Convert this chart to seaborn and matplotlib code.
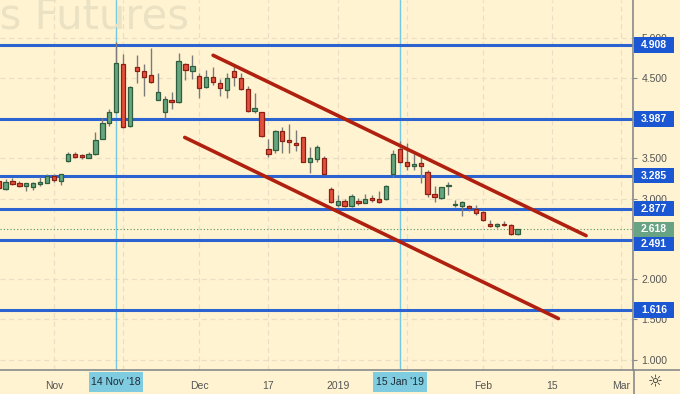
import numpy as np
import pandas as pd
import matplotlib
matplotlib.use("Agg")
import matplotlib.pyplot as plt
from matplotlib.patches import Rectangle
from matplotlib.lines import Line2D
import matplotlib.transforms as mtransforms
import seaborn as sns

# -------------------------
# Data
# -------------------------
# daily candles, 22 Oct 2018 .. 8 Feb 2019
opens = [3.22, 3.12, 3.22, 3.19, 3.16, 3.14, 3.18, 3.20, 3.28, 3.22,
         3.47, 3.55, 3.54, 3.51, 3.55, 3.74, 3.94, 4.07, 4.67, 3.90,
         4.63, 4.58, 4.53, 4.23, 4.07, 4.22, 4.20, 4.67, 4.58, 4.52,
         4.39, 4.51, 4.44, 4.35, 4.59, 4.50, 4.36, 4.09, 4.07, 3.62,
         3.60, 3.84, 3.73, 3.69, 3.76, 3.45, 3.49, 3.51, 3.12, 2.92,
         2.97, 2.91, 2.97, 2.95, 3.01, 2.99, 2.99, 3.31, 3.62, 3.45,
         3.41, 3.44, 3.33, 3.06, 3.01, 3.16, 2.92, 2.91, 2.91, 2.87,
         2.83, 2.69, 2.66, 2.69, 2.67, 2.56]
highs = [3.24, 3.24, 3.25, 3.22, 3.20, 3.21, 3.27, 3.31, 3.31, 3.31,
         3.58, 3.58, 3.56, 3.58, 3.83, 4.00, 4.11, 4.94, 4.80, 4.40,
         4.78, 4.67, 4.87, 4.56, 4.28, 4.32, 4.81, 4.69, 4.78, 4.56,
         4.60, 4.63, 4.49, 4.56, 4.66, 4.56, 4.40, 4.31, 4.08, 3.74,
         3.85, 3.89, 3.93, 3.85, 3.77, 3.64, 3.66, 3.53, 3.14, 3.04,
         3.00, 3.06, 3.01, 3.06, 3.04, 3.09, 3.17, 3.60, 3.71, 3.69,
         3.56, 3.52, 3.36, 3.16, 3.15, 3.21, 2.98, 2.97, 2.92, 2.92,
         2.84, 2.73, 2.70, 2.72, 2.68, 2.62]
lows = [3.11, 3.11, 3.17, 3.15, 3.10, 3.11, 3.16, 3.19, 3.21, 3.17,
        3.45, 3.51, 3.49, 3.50, 3.54, 3.74, 3.90, 4.06, 3.88, 3.89,
        4.43, 4.28, 4.43, 4.22, 4.00, 4.11, 4.19, 4.47, 4.48, 4.25,
        4.37, 4.41, 4.28, 4.25, 4.40, 4.35, 4.08, 4.06, 3.77, 3.52,
        3.57, 3.57, 3.57, 3.59, 3.45, 3.32, 3.45, 3.29, 2.94, 2.90,
        2.89, 2.90, 2.92, 2.94, 2.96, 2.95, 2.98, 3.27, 3.44, 3.35,
        3.36, 3.20, 3.02, 2.96, 3.00, 3.04, 2.90, 2.79, 2.85, 2.80,
        2.72, 2.65, 2.64, 2.66, 2.55, 2.55]
closes = [3.13, 3.21, 3.18, 3.16, 3.19, 3.19, 3.21, 3.28, 3.23, 3.30,
          3.56, 3.52, 3.52, 3.56, 3.73, 3.94, 4.07, 4.69, 3.89, 4.39,
          4.58, 4.51, 4.45, 4.32, 4.24, 4.20, 4.71, 4.60, 4.65, 4.38,
          4.51, 4.45, 4.37, 4.50, 4.51, 4.36, 4.09, 4.13, 3.78, 3.55,
          3.84, 3.72, 3.70, 3.67, 3.46, 3.51, 3.64, 3.30, 2.96, 2.97,
          2.91, 3.03, 2.95, 2.99, 2.98, 2.96, 3.16, 3.56, 3.45, 3.40,
          3.42, 3.41, 3.06, 3.02, 3.14, 3.17, 2.93, 2.96, 2.88, 2.82,
          2.73, 2.66, 2.68, 2.67, 2.56, 2.618]

# trading calendar (exchange holidays skipped for past bars)
holidays = ["2018-11-22", "2018-12-25", "2019-01-01", "2019-01-21"]
calendar = pd.bdate_range("2018-10-22", "2019-03-08")
calendar = calendar[~calendar.isin(pd.to_datetime(holidays))]

# horizontal support / resistance levels
levels = [4.908, 3.987, 3.285, 2.877, 2.491, 1.616]
last_price = 2.618

# descending channel, bar position / price
upper_x = [31.0, 84.9]
upper_y = [4.78, 2.54]
lower_x = [26.9, 80.9]
lower_y = [3.76, 1.51]

# marked dates (cyan crosshair lines)
marked_dates = ["2018-11-14", "2019-01-15"]
marked_labels = ["14 Nov '18", "15 Jan '19"]

# axis ticks
tick_dates = ["2018-11-01", "2018-12-03", "2018-12-17", "2019-01-02",
              "2019-02-01", "2019-02-15", "2019-03-01"]
tick_labels = ["Nov", "Dec", "17", "2019", "Feb", "15", "Mar"]
extra_grid_dates = ["2018-11-15", "2019-01-16"]
price_ticks = [1.0, 1.5, 2.0, 2.5, 3.0, 3.5, 4.0, 4.5, 5.0]

df = pd.DataFrame({"date": calendar[:len(opens)], "open": opens, "high": highs,
                   "low": lows, "close": closes})
df["pos"] = np.arange(len(df))
df["up"] = df["close"] >= df["open"]


def bar_pos(d):
    return int(np.where(calendar == pd.Timestamp(d))[0][0])


# -------------------------
# Style
# -------------------------
BG = "#fff3d1"
GRID = "#e9dfc6"
GREEN, GREEN_EDGE = "#65a57f", "#2e5e3e"
RED, RED_EDGE = "#e2513d", "#8c1e12"
BLUE = "#2b63d0"
BOX_BLUE = "#1c57d3"
CHANNEL = "#b0200f"
CYAN = "#74c9e0"
TXT = "#555555"

sns.set_style("white", {"axes.facecolor": BG, "figure.facecolor": BG})
plt.rcParams["font.family"] = ["Liberation Sans", "DejaVu Sans"]

fig = plt.figure(figsize=(6.8, 3.94), dpi=100)
ax = fig.add_axes([0, 24 / 394, 633 / 680, 370 / 394])
ax.set_facecolor(BG)

# watermark (cut off at the left edge, as in the screenshot)
fig.text(189 / 680, 1 - 28.5 / 394, "Natural Gas Futures", ha="right",
         va="baseline", fontsize=30, color="#ebe2c4", zorder=0,
         family="DejaVu Sans")

# grid
for d in tick_dates + extra_grid_dates:
    ax.axvline(bar_pos(d), color=GRID, lw=0.9, ls=(0, (4, 3)), zorder=0.5)
for p in price_ticks:
    ax.axhline(p, color=GRID, lw=0.9, ls=(0, (4, 3)), zorder=0.5)

# crosshair lines
for d in marked_dates:
    ax.axvline(bar_pos(d), color=CYAN, lw=1.0, zorder=1)

# levels
for lv in levels:
    ax.axhline(lv, color=BLUE, lw=2.2, zorder=2)
ax.axhline(last_price, color="#4e9466", lw=0.8, ls=(0, (1, 2)), zorder=2)

# candles
body_w = 0.62
for up, fc, ec in [(True, GREEN, GREEN_EDGE), (False, RED, RED_EDGE)]:
    sub = df[df["up"] == up]
    ax.vlines(sub["pos"], sub["low"], sub["high"], color="#7b7b7b", lw=1.0, zorder=3)
    body = (sub["close"] - sub["open"]).abs().clip(lower=0.015)
    ax.bar(sub["pos"], body, bottom=sub[["open", "close"]].min(axis=1),
           width=body_w, color=fc, edgecolor=ec, linewidth=0.9, zorder=4)

# channel
sns.lineplot(x=upper_x, y=upper_y, ax=ax, color=CHANNEL, lw=2.6, zorder=5)
sns.lineplot(x=lower_x, y=lower_y, ax=ax, color=CHANNEL, lw=2.6, zorder=5)

ax.set_xlim(0.2, 91.68)
ax.set_ylim(0.871, 5.467)

# axes / ticks
for s in ["top", "left"]:
    ax.spines[s].set_visible(False)
for s in ["right", "bottom"]:
    ax.spines[s].set_color("#8a8a8a")
    ax.spines[s].set_linewidth(1.2)
ax.yaxis.tick_right()
ax.set_yticks(price_ticks)
ax.set_yticklabels([f"{p:.3f}" for p in price_ticks])
ax.set_xticks([bar_pos(d) for d in tick_dates])
ax.set_xticklabels(tick_labels)
ax.tick_params(axis="both", colors="#8a8a8a", labelcolor=TXT, labelsize=7.5,
               length=3, width=0.8, pad=3)
ax.tick_params(axis="x", pad=5)
ax.set_xlabel("")
ax.set_ylabel("")

# price label boxes on the right scale
yx = mtransforms.blended_transform_factory(ax.transAxes, ax.transData)
x0, x1 = 634 / 633, 674 / 633
box_h = 15.5 / 80.5
# label centre offsets (px, downwards) where labels would collide
label_shift = {2.491: 4.0}
boxes = [(v, BOX_BLUE) for v in levels] + [(last_price, "#68a483")]
for lv, col in boxes:
    yc = lv - label_shift.get(lv, 0.0) / 80.5
    ax.add_patch(Rectangle((x0, yc - box_h / 2), x1 - x0, box_h, transform=yx,
                           facecolor=col, edgecolor="none", clip_on=False, zorder=6))
    ax.text((x0 + x1) / 2, yc, f"{lv:.3f}", transform=yx, ha="center", va="center",
            color="white", fontsize=7.5, fontweight="bold", clip_on=False, zorder=7)

# date label boxes under the crosshairs
xy = mtransforms.blended_transform_factory(ax.transData, ax.transAxes)
for d, lab in zip(marked_dates, marked_labels):
    p = bar_pos(d)
    w = 54 / 6.92
    ax.add_patch(Rectangle((p - w / 2, -22 / 370), w, 20 / 370, transform=xy,
                           facecolor="#7fcbe0", edgecolor="none", clip_on=False, zorder=6))
    ax.text(p, -12 / 370, lab, transform=xy, ha="center", va="center",
            color="#1d2b36", fontsize=7.5, clip_on=False, zorder=7)

# frame pieces under the price scale + settings icon
fig.add_artist(Line2D([633 / 680, 1], [24 / 394, 24 / 394], color="#8a8a8a", lw=1.2))
fig.add_artist(Line2D([633.5 / 680, 633.5 / 680], [0, 24 / 394], color="#8a8a8a", lw=1.2))
fig.text(655 / 680, 1 - 382 / 394, "\u263c", ha="center", va="center",
         fontsize=12, color="#333333", family="DejaVu Sans")

fig.savefig("out.png", dpi=100, facecolor=BG)
